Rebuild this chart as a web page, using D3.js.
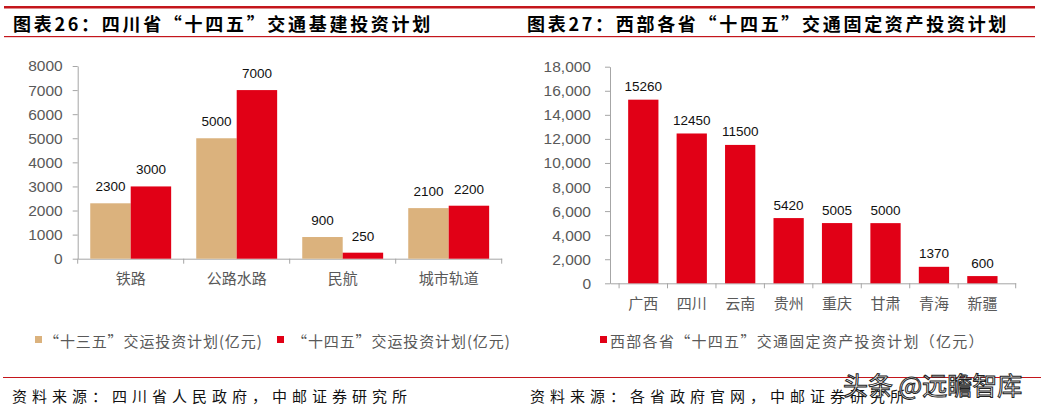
<!DOCTYPE html>
<html>
<head>
<meta charset="utf-8">
<script src="https://cdn.jsdelivr.net/npm/d3@7"></script>
<style>
  body { margin: 0; background: #fff; }
  svg { display: block; }
  .num { font-family: "Liberation Sans", Arial, sans-serif; }
  .cjk { font-family: "Noto Sans CJK SC", "Liberation Sans", sans-serif; }
</style>
</head>
<body>
<svg id="fig" width="1041" height="407"></svg>
<script>
// ---- data ----
const sichuanCats = ['铁路', '公路水路', '民航', '城市轨道'];
const plan13 = [2300, 5000, 900, 2100];
const plan14 = [3000, 7000, 250, 2200];
const sichuanTicks = [0, 1000, 2000, 3000, 4000, 5000, 6000, 7000, 8000];
const sichuanSeries = ['“十三五”交运投资计划(亿元)', '“十四五”交运投资计划(亿元)'];

const westCats = ['广西', '四川', '云南', '贵州', '重庆', '甘肃', '青海', '新疆'];
const westValues = [15260, 12450, 11500, 5420, 5005, 5000, 1370, 600];
const westTicks = [0, 2000, 4000, 6000, 8000, 10000, 12000, 14000, 16000, 18000];
const westSeries = '西部各省“十四五”交通固定资产投资计划（亿元）';

const titles = ['图表26：四川省“十四五”交通基建投资计划', '图表27：西部各省“十四五”交通固定资产投资计划'];
const sources = ['资料来源：四川省人民政府，中邮证券研究所', '资料来源：各省政府官网，中邮证券研究所'];
const watermark = '头条 @远瞻智库';

const TAN = '#dbb27d', RED = '#e10016', LINE_RED = '#c4161c', AXIS = '#a6a6a6', GREY = '#595959';

const svg = d3.select('#fig');

// ---- header / footer rules ----
svg.append('rect').attr('x', 4).attr('y', 6).attr('width', 1031).attr('height', 2.5).attr('fill', LINE_RED);
svg.append('rect').attr('x', 4).attr('y', 36).attr('width', 1031).attr('height', 1.2).attr('fill', LINE_RED);
svg.append('rect').attr('x', 3).attr('y', 377).attr('width', 1038).attr('height', 1).attr('fill', LINE_RED);

svg.selectAll('text.title')
  .data(titles)
  .join('text')
  .attr('class', 'title cjk')
  .attr('x', (d, i) => i === 0 ? 13 : 527)
  .attr('y', 23)
  .attr('dominant-baseline', 'central')
  .style('font-size', '18px')
  .style('font-weight', 'bold')
  .style('letter-spacing', '2.7px')
  .attr('fill', '#000')
  .text(d => d);

svg.selectAll('text.source')
  .data(sources)
  .join('text')
  .attr('class', 'source cjk')
  .attr('x', (d, i) => i === 0 ? 12 : 530)
  .attr('y', 395)
  .attr('dominant-baseline', 'central')
  .style('font-size', '15px')
  .style('letter-spacing', '5px')
  .attr('fill', '#111')
  .text(d => d);

// ---- left chart: Sichuan ----
const xL = d3.scaleBand().domain(sichuanCats).range([77.7, 501.7]);
const sub = d3.scaleBand().domain([0, 1]).range([0, xL.bandwidth()]).paddingOuter(0.31);
const yL = d3.scaleLinear().domain([0, 8000]).range([258.7, 66]);

drawYAxis(yL, 77.7, sichuanTicks, d => d, 10);
drawXAxis(xL, yL(0));

const groups = [plan13, plan14];
groups.forEach((vals, s) => {
  const g = svg.append('g');
  g.selectAll('rect')
    .data(vals)
    .join('rect')
    .attr('x', (d, i) => xL(sichuanCats[i]) + sub(s))
    .attr('y', d => yL(d))
    .attr('width', sub.bandwidth())
    .attr('height', d => yL(0) - yL(d))
    .attr('fill', s === 0 ? TAN : RED);
  g.selectAll('text')
    .data(vals)
    .join('text')
    .attr('class', 'num')
    .attr('x', (d, i) => xL(sichuanCats[i]) + sub(s) + sub.bandwidth() / 2)
    .attr('y', d => yL(d) - 16.5)
    .attr('text-anchor', 'middle')
    .attr('dominant-baseline', 'central')
    .style('font-size', '13.5px')
    .attr('fill', '#111')
    .text(d => d);
});

// legend left
const legL = [{ x: 35, tx: 44, c: TAN }, { x: 277, tx: 292, c: RED }];
legL.forEach((l, i) => {
  svg.append('rect').attr('x', l.x).attr('y', 336).attr('width', 7).attr('height', 7).attr('fill', l.c);
  svg.append('text').attr('class', 'cjk').attr('x', l.tx).attr('y', 340)
    .attr('dominant-baseline', 'central').style('font-size', '15px').style('letter-spacing', '0.9px')
    .attr('fill', GREY).text(sichuanSeries[i]);
});

// ---- right chart: western provinces ----
const xR = d3.scaleBand().domain(westCats).range([610, 1015.7]).padding(0.375);
const yR = d3.scaleLinear().domain([0, 18000]).range([283.3, 66.7]);

drawYAxis(yR, 610, westTicks, d3.format(','), 14);
drawXAxis(xR, yR(0));

svg.append('g').selectAll('rect')
  .data(westValues)
  .join('rect')
  .attr('x', (d, i) => xR(westCats[i]))
  .attr('y', d => yR(d))
  .attr('width', xR.bandwidth())
  .attr('height', d => yR(0) - yR(d))
  .attr('fill', RED);

svg.append('g').selectAll('text')
  .data(westValues)
  .join('text')
  .attr('class', 'num')
  .attr('x', (d, i) => xR(westCats[i]) + xR.bandwidth() / 2)
  .attr('y', d => yR(d) - 13)
  .attr('text-anchor', 'middle')
  .attr('dominant-baseline', 'central')
  .style('font-size', '13.5px')
  .attr('fill', '#111')
  .text(d => d);

svg.append('rect').attr('x', 600).attr('y', 336).attr('width', 7).attr('height', 7).attr('fill', RED);
svg.append('text').attr('class', 'cjk').attr('x', 610).attr('y', 340)
  .attr('dominant-baseline', 'central').style('font-size', '15px').style('letter-spacing', '1.3px')
  .attr('fill', GREY).text(westSeries);

// watermark
svg.append('text').attr('class', 'cjk').attr('x', 843).attr('y', 384)
  .attr('dominant-baseline', 'central').style('font-size', '25px')
  .attr('fill', '#fff').attr('stroke', '#222').attr('stroke-width', 1)
  .text(watermark);

function drawYAxis(y, x0, ticks, fmt, pad) {
  const g = svg.append('g')
    .attr('transform', `translate(${x0},0)`)
    .call(d3.axisLeft(y).tickValues(ticks).tickFormat(fmt).tickSize(5).tickSizeOuter(0).tickPadding(pad));
  g.select('.domain').attr('stroke', AXIS);
  g.selectAll('.tick line').attr('stroke', AXIS);
  g.selectAll('.tick text').attr('class', 'num').attr('fill', GREY).style('font-size', '15.5px');
}

function drawXAxis(x, y0) {
  const g = svg.append('g')
    .attr('transform', `translate(0,${y0})`)
    .call(d3.axisBottom(x).tickSize(0).tickPadding(15));
  g.select('.domain').attr('stroke', AXIS);
  g.selectAll('.tick text').attr('class', 'cjk').attr('fill', GREY).style('font-size', '15px');
  // boundary ticks between categories
  const edges = x.domain().map(c => x(c) - (x.step() - x.bandwidth()) / 2)
    .concat([x.range()[1]]);
  g.selectAll('line.edge')
    .data(edges)
    .join('line')
    .attr('class', 'edge')
    .attr('x1', d => d).attr('x2', d => d)
    .attr('y1', 0).attr('y2', 5)
    .attr('stroke', AXIS);
}
</script>
</body>
</html>
